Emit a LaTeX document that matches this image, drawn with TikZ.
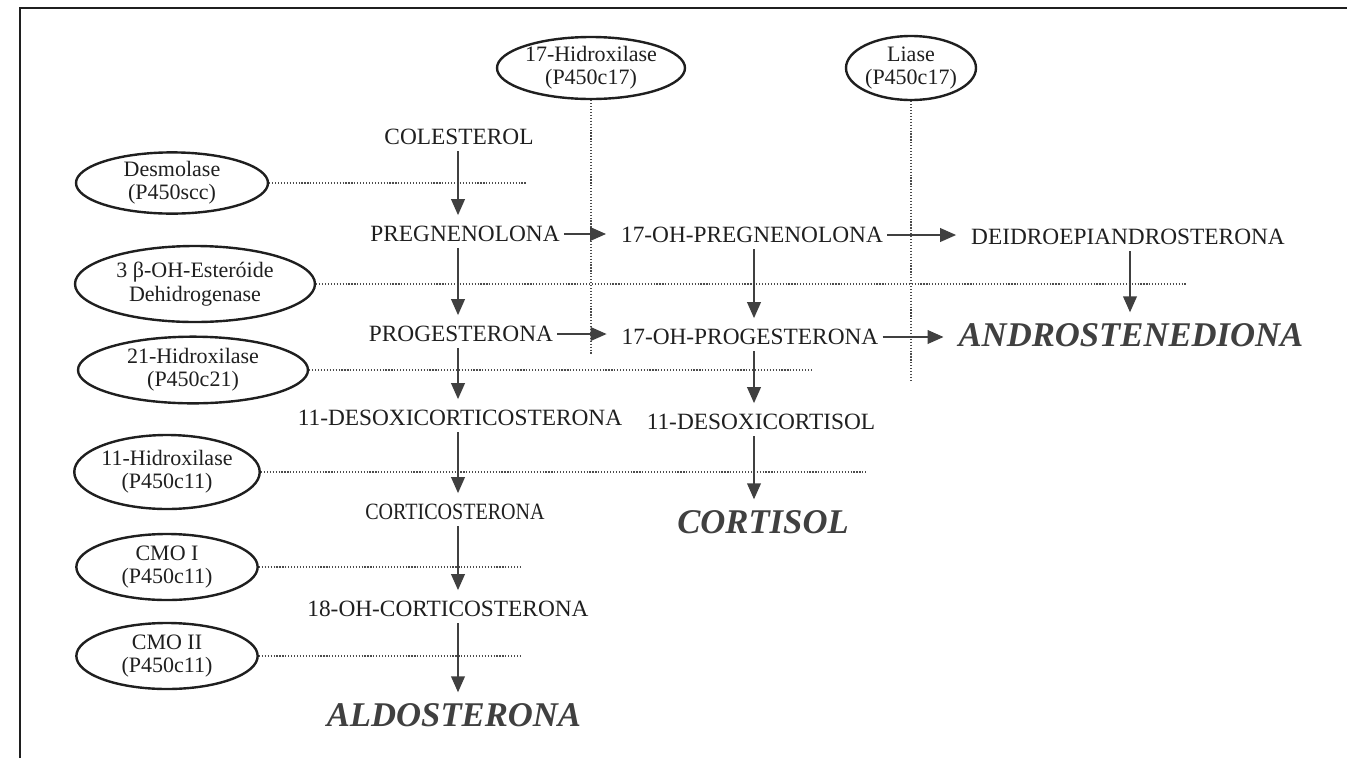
\documentclass[tikz,border=0pt]{standalone}
\usepackage{fontspec}
\setmainfont{Liberation Serif}
\usepackage{graphicx}
\usetikzlibrary{arrows.meta,shapes.geometric}

\definecolor{ink}{gray}{0.12}
\definecolor{dotc}{gray}{0.3}

\begin{document}
\begin{tikzpicture}[x=0.75pt, y=-0.75pt,
      >={Triangle[length=12pt,width=10pt]},
      cmp/.style={inner sep=0pt, text=ink, font=\fontsize{17.5}{20}\selectfont},
      fin/.style={inner sep=0pt, text=ink!85, font=\fontsize{26}{30}\selectfont\bfseries\itshape},
      enz/.style={draw=ink, ellipse, line width=1.8pt, inner sep=0pt, align=center,
                  text=ink, font=\fontsize{16.5}{17.5}\selectfont},
      dot/.style={dotc, line width=0.9pt, dash pattern=on 0.9pt off 1.3pt},
      vstep/.style={->, ink!85, line width=1.9pt, shorten <=4.5pt, shorten >=8pt},
      hstep/.style={->, ink!85, line width=1.9pt, shorten <=3pt, shorten >=11pt}]

     \useasboundingbox (0,0) rectangle (1347,758);
     \draw[ink, line width=1.8pt] (20,758) -- (20,8) -- (1347,8);

     % enzymes
     \node[enz, minimum width=141pt, minimum height=46.5pt] (hid17) at (591,68) {17-Hidroxilase\\(P450c17)};
     \node[enz, minimum width=97.5pt, minimum height=48pt] (liase) at (911,68) {Liase\\(P450c17)};
     \node[enz, minimum width=144pt, minimum height=45pt] (desm) at (172,183) {Desmolase\\(P450scc)};
     \node[enz, minimum width=180pt, minimum height=57pt] (hsd) at (195,284) {3 β-OH-Esteróide\\Dehidrogenase};
     \node[enz, minimum width=172.5pt, minimum height=50pt] (hid21) at (193,370) {21-Hidroxilase\\(P450c21)};
     \node[enz, minimum width=138pt, minimum height=55.5pt] (hid11) at (167,472) {11-Hidroxilase\\(P450c11)};
     \node[enz, minimum width=136pt, minimum height=49.5pt] (cmoa) at (167,567) {CMO I\\(P450c11)};
     \node[enz, minimum width=136pt, minimum height=49.5pt] (cmob) at (167,656) {CMO II\\(P450c11)};

     % steroids
     \node[cmp] (col)      at (459,137)  {COLESTEROL};
     \node[cmp] (preg)     at (465,234)  {PREGNENOLONA};
     \node[cmp] (hpreg)    at (752,235)  {17-OH-PREGNENOLONA};
     \node[cmp] (dhea)     at (1128,237) {DEIDROEPIANDROSTERONA};
     \node[cmp] (prog)     at (461,334)  {PROGESTERONA};
     \node[cmp] (hprog)    at (750,337)  {17-OH-PROGESTERONA};
     \node[fin] (andro)    at (1131,335) {ANDROSTENEDIONA};
     \node[cmp] (doc)      at (460,418)  {11-DESOXICORTICOSTERONA};
     \node[cmp] (dcort)    at (761,422)  {11-DESOXICORTISOL};
     \node[cmp] (cortico)  at (455,512)  {\scalebox{0.86}[1]{CORTICOSTERONA}};
     \node[fin] (cortisol) at (763,522)  {CORTISOL};
     \node[cmp] (hcort)    at (448,609)  {18-OH-CORTICOSTERONA};
     \node[fin] (aldo)     at (454,715)  {ALDOSTERONA};

     % ends of the dotted lines
     \coordinate (desmE)  at (527,183);
     \coordinate (hsdE)   at (1186,284);
     \coordinate (hid21E) at (813,370);
     \coordinate (hid11E) at (867,472);
     \coordinate (cmoaE)  at (522,567);
     \coordinate (cmobE)  at (522,656);
     \coordinate (hid17E) at (591,355);
     \coordinate (liaseE) at (911,380);
     \foreach \e in {desm,hsd,hid21,hid11,cmoa,cmob,hid17,liase}
        \draw[dot] (\e) -- (\e E);

     % columns
     \coordinate (k1) at (458,0);
     \coordinate (k2) at (754,0);
     \coordinate (k3) at (1130,0);

     \draw[vstep] (col.south -| k1)     -- (preg.north -| k1);
     \draw[vstep] (preg.south -| k1)    -- (prog.north -| k1);
     \draw[vstep] (prog.south -| k1)    -- (doc.north -| k1);
     \draw[vstep] (doc.south -| k1)     -- (cortico.north -| k1);
     \draw[vstep] (cortico.south -| k1) -- (hcort.north -| k1);
     \draw[vstep] (hcort.south -| k1)   -- (aldo.north -| k1);
     \draw[vstep] (hpreg.south -| k2)   -- (hprog.north -| k2);
     \draw[vstep] (hprog.south -| k2)   -- (dcort.north -| k2);
     \draw[vstep] (dcort.south -| k2)   -- (cortisol.north -| k2);
     \draw[vstep] (dhea.south -| k3)    -- (andro.north -| k3);

     \draw[hstep] (preg.east)  -- (preg.east -| hpreg.west);
     \draw[hstep] (prog.east)  -- (prog.east -| hprog.west);
     \draw[hstep] (hpreg.east) -- (hpreg.east -| dhea.west);
     \draw[hstep] (hprog.east) -- (hprog.east -| andro.west);
  \end{tikzpicture}
\end{document}
